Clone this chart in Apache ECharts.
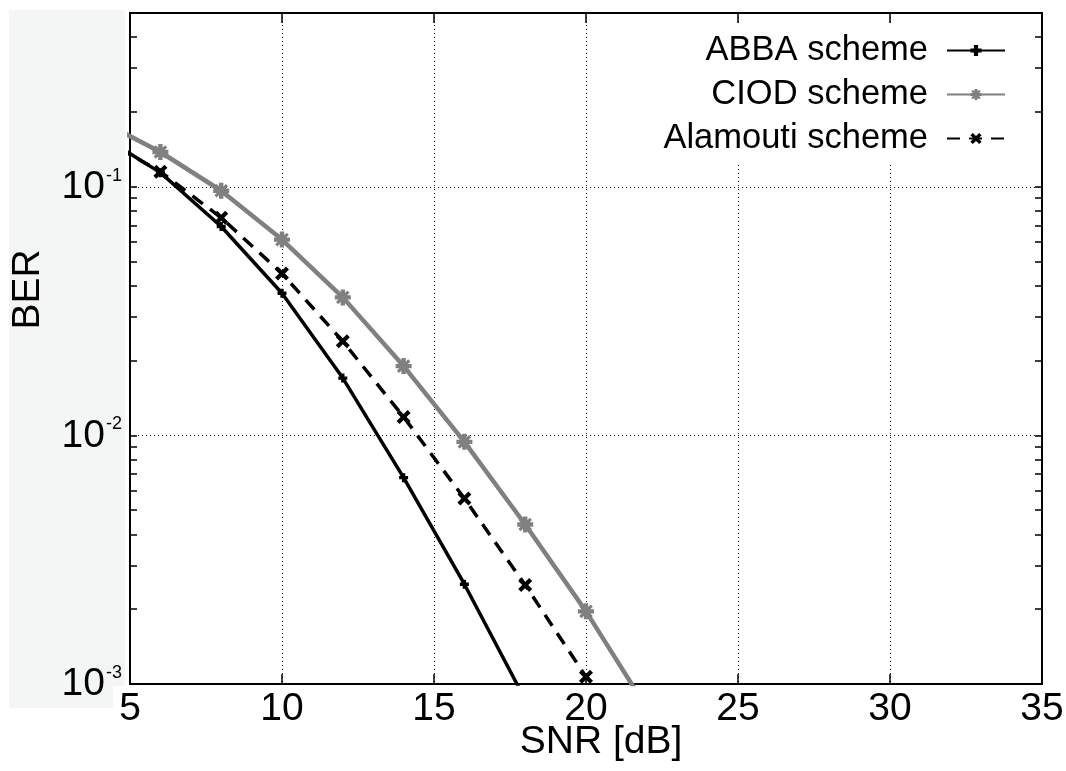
<!DOCTYPE html>
<html>
<head>
<meta charset="utf-8">
<script src="https://cdn.jsdelivr.net/npm/echarts@6/dist/echarts.min.js"></script>
<style>
  html, body { margin: 0; padding: 0; background: #fff; }
  #chart { width: 1066px; height: 771px; }
</style>
</head>
<body>
<div id="chart"></div>
<script type="text/javascript">
// SNR in dB (x = 4 point lies just left of the axis, clipped away)
var snrAbba = [4, 6, 8, 10, 12, 14, 16, 18];
var berAbba = [0.162, 0.114, 0.0692, 0.0373, 0.0170, 0.00676, 0.00252, 0.000865];

var snrCiod = [4, 6, 8, 10, 12, 14, 16, 18, 20, 22];
var berCiod = [0.185, 0.138, 0.0964, 0.0613, 0.0359, 0.0190, 0.00942, 0.00438, 0.00196, 0.0008];

var snrAlam = [4, 6, 8, 10, 12, 14, 16, 18, 20];
var berAlam = [0.158, 0.115, 0.0751, 0.0448, 0.0239, 0.01186, 0.00557, 0.00250, 0.00107];

var seriesNames = ['ABBA scheme', 'CIOD scheme', 'Alamouti scheme'];
var xTicks = [5, 10, 15, 20, 25, 30, 35];
var yMin = 0.001, yMax = 0.5;
var yMinorTicks = [0.001, 0.002, 0.003, 0.004, 0.005, 0.006, 0.007, 0.008, 0.009,
                   0.01, 0.02, 0.03, 0.04, 0.05, 0.06, 0.07, 0.08, 0.09,
                   0.1, 0.2, 0.3, 0.4];

var FONT = "'Liberation Sans', Arial, Helvetica, sans-serif";

function pairs(xs, ys) {
  var out = [];
  for (var i = 0; i < xs.length; i++) out.push([xs[i], ys[i]]);
  return out;
}

var plusPath = 'path://M2.5,0H5.5V2.5H8V5.5H5.5V8H2.5V5.5H0V2.5H2.5Z';
var crossPath = 'path://M0,1.7L1.7,0L4,2.3L6.3,0L8,1.7L5.7,4L8,6.3L6.3,8L4,5.7L1.7,8L0,6.3L2.3,4Z';
var starPath = 'path://M2.9,0H5.1V2.9H8V5.1H5.1V8H2.9V5.1H0V2.9H2.9Z M0.6,1.7L1.7,0.6L7.4,6.3L6.3,7.4Z M6.3,0.6L7.4,1.7L1.7,7.4L0.6,6.3Z';

function yLabel(v) {
  var l = Math.log(v) / Math.LN10;
  var e = Math.round(l);
  if (Math.abs(l - e) > 1e-6) return '';
  return '{b|10}{s|' + e + '}';
}

var option = {
  animation: false,
  backgroundColor: '#fff',
  textStyle: { fontFamily: FONT },
  graphic: {
    elements: [
      { type: 'rect', z: -100, shape: { x: 9, y: 10, width: 116, height: 676 }, style: { fill: '#f4f6f5' } },
      { type: 'rect', z: -100, shape: { x: 9, y: 686, width: 104, height: 22 }, style: { fill: '#f4f6f5' } }
    ]
  },
  grid: {
    left: 130, right: 24, top: 13, bottom: 87,
    containLabel: false, outerBoundsMode: 'none',
    show: true, borderColor: '#000', borderWidth: 2, backgroundColor: '#fff'
  },
  legend: {
    data: seriesNames,
    orient: 'vertical',
    align: 'right',
    right: 52,
    top: 25,
    padding: 8,
    itemGap: 9,
    itemWidth: 58,
    itemHeight: 14,
    backgroundColor: '#fff',
    textStyle: { fontSize: 34.5, color: '#000', fontFamily: FONT, lineHeight: 35, padding: [0, 14, 0, 0] }
  },
  xAxis: [{
    type: 'value', min: 5, max: 35, interval: 5,
    position: 'bottom',
    name: 'SNR [dB]', nameLocation: 'middle', nameGap: 38, nameMoveOverlap: false,
    nameTextStyle: { fontSize: 39, color: '#000', fontFamily: FONT, lineHeight: 40, padding: [0, 0, 0, 30] },
    axisLine: { lineStyle: { color: '#000', width: 2 } },
    axisTick: { inside: true, length: 10, lineStyle: { color: '#000', width: 1.5 } },
    axisLabel: { fontSize: 39, color: '#000', margin: 6, fontFamily: FONT,
      customValues: xTicks },
    splitLine: { show: true, lineStyle: { color: '#111', width: 1, type: [1, 3] } }
  }, {
    type: 'value', min: 5, max: 35, interval: 5,
    position: 'top',
    axisLine: { show: false },
    axisTick: { inside: true, length: 10, lineStyle: { color: '#000', width: 1.5 } },
    axisLabel: { show: false },
    splitLine: { show: false }
  }],
  yAxis: [{
    type: 'log', logBase: 10, min: yMin, max: yMax,
    position: 'left',
    name: 'BER', nameLocation: 'middle', nameGap: 82, nameRotate: 90, nameMoveOverlap: false,
    nameTextStyle: { fontSize: 39, color: '#000', fontFamily: FONT, padding: [0, 0, 0, 118] },
    axisLine: { show: true, lineStyle: { color: '#000', width: 2 } },
    axisTick: { show: false },
    axisLabel: {
      margin: 8,
      formatter: yLabel,
      rich: {
        b: { fontSize: 39, color: '#000', fontFamily: FONT, lineHeight: 40, verticalAlign: 'bottom' },
        s: { fontSize: 18, color: '#000', fontFamily: FONT, lineHeight: 40, verticalAlign: 'top', padding: [0, 0, 0, 1] }
      }
    },
    splitLine: { show: true, lineStyle: { color: '#111', width: 1, type: [1, 3] } }
  }, {
    type: 'log', logBase: 10, min: yMin, max: yMax,
    position: 'left',
    axisLine: { show: false },
    axisLabel: { show: false },
    axisTick: { inside: true, length: 7, customValues: yMinorTicks, lineStyle: { color: '#000', width: 1.5 } },
    splitLine: { show: false }
  }, {
    type: 'log', logBase: 10, min: yMin, max: yMax,
    position: 'right',
    axisLine: { show: false },
    axisLabel: { show: false },
    axisTick: { inside: true, length: 7, customValues: yMinorTicks, lineStyle: { color: '#000', width: 1.5 } },
    splitLine: { show: false }
  }],
  series: [{
    name: seriesNames[0],
    type: 'line',
    data: pairs(snrAbba, berAbba),
    clip: true,
    symbol: plusPath, symbolSize: 9,
    showAllSymbol: true,
    itemStyle: { color: '#000' },
    lineStyle: { color: '#000', width: 3.5 },
    z: 4
  }, {
    name: seriesNames[1],
    type: 'line',
    data: pairs(snrCiod, berCiod),
    clip: true,
    symbol: starPath, symbolSize: 16,
    showAllSymbol: true,
    itemStyle: { color: '#808080' },
    lineStyle: { color: '#808080', width: 4.5 },
    z: 3
  }, {
    name: seriesNames[2],
    type: 'line',
    data: pairs(snrAlam, berAlam),
    clip: true,
    symbol: crossPath, symbolSize: 14,
    showAllSymbol: true,
    itemStyle: { color: '#000' },
    lineStyle: { color: '#000', width: 3.5, type: [13, 9] },
    z: 5
  }]
};

var myChart = echarts.init(document.getElementById('chart'));
myChart.setOption(option);
</script>
</body>
</html>
